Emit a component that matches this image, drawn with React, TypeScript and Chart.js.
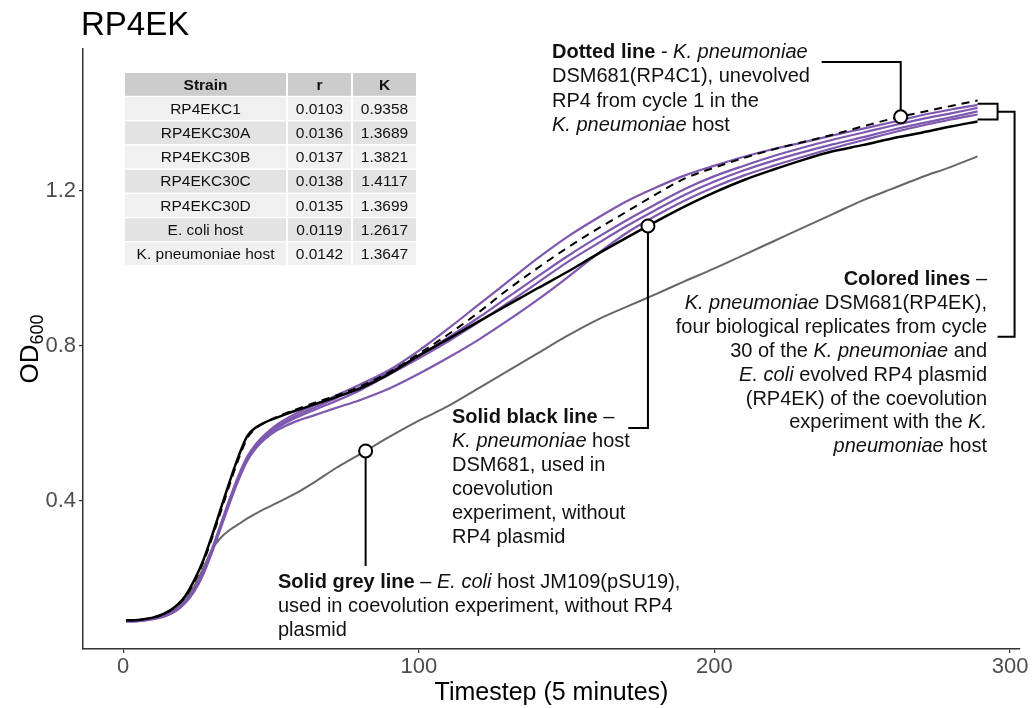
import React, { useEffect, useRef } from "react";
import { Chart, registerables } from "chart.js";

Chart.register(...registerables);

const FONT = '"Liberation Sans", Arial, Helvetica, sans-serif';

// ---------------- data ----------------
const TIMESTEPS = [1, 5, 10, 14, 18, 21, 24, 27, 30, 33, 36, 39, 42, 45, 48, 52, 58, 65, 72, 80, 90, 100, 110, 120, 130, 140, 150, 160, 170, 180, 190, 200, 210, 220, 230, 240, 250, 260, 270, 280, 289];

// dashed: K. pneumoniae DSM681(RP4C1)
const RP4EKC1 = [0.092, 0.093, 0.099, 0.109, 0.128, 0.152, 0.190, 0.240, 0.303, 0.372, 0.442, 0.508, 0.562, 0.588, 0.603, 0.617, 0.635, 0.654, 0.672, 0.695, 0.732, 0.780, 0.830, 0.885, 0.945, 1.000, 1.052, 1.100, 1.145, 1.190, 1.232, 1.260, 1.285, 1.307, 1.326, 1.345, 1.366, 1.386, 1.403, 1.419, 1.433];
// purple replicates
const RP4EKC30C = [0.090, 0.091, 0.096, 0.104, 0.120, 0.141, 0.172, 0.217, 0.275, 0.340, 0.405, 0.465, 0.515, 0.548, 0.572, 0.597, 0.624, 0.648, 0.672, 0.700, 0.738, 0.788, 0.845, 0.905, 0.965, 1.025, 1.080, 1.128, 1.172, 1.208, 1.240, 1.265, 1.288, 1.308, 1.325, 1.343, 1.360, 1.377, 1.395, 1.410, 1.422];
const RP4EKC30B = [0.090, 0.091, 0.096, 0.104, 0.119, 0.140, 0.170, 0.214, 0.272, 0.337, 0.402, 0.462, 0.512, 0.545, 0.568, 0.592, 0.618, 0.642, 0.665, 0.693, 0.733, 0.775, 0.822, 0.872, 0.925, 0.978, 1.030, 1.078, 1.123, 1.165, 1.205, 1.238, 1.265, 1.290, 1.312, 1.332, 1.350, 1.368, 1.385, 1.400, 1.414];
const RP4EKC30D = [0.089, 0.090, 0.095, 0.103, 0.118, 0.139, 0.169, 0.212, 0.270, 0.334, 0.398, 0.458, 0.508, 0.541, 0.564, 0.588, 0.613, 0.636, 0.658, 0.685, 0.726, 0.768, 0.812, 0.860, 0.910, 0.962, 1.015, 1.062, 1.108, 1.150, 1.190, 1.224, 1.253, 1.278, 1.300, 1.320, 1.338, 1.357, 1.374, 1.390, 1.405];
const RP4EKC30A = [0.089, 0.090, 0.095, 0.102, 0.117, 0.137, 0.166, 0.209, 0.266, 0.330, 0.394, 0.454, 0.504, 0.537, 0.560, 0.582, 0.604, 0.622, 0.640, 0.660, 0.690, 0.728, 0.770, 0.815, 0.865, 0.918, 0.975, 1.035, 1.090, 1.135, 1.175, 1.210, 1.240, 1.265, 1.288, 1.310, 1.330, 1.350, 1.368, 1.384, 1.397];
// solid black: K. pneumoniae host
const KPN_HOST = [0.092, 0.093, 0.099, 0.110, 0.130, 0.155, 0.195, 0.245, 0.310, 0.380, 0.450, 0.515, 0.568, 0.590, 0.603, 0.615, 0.632, 0.650, 0.668, 0.690, 0.728, 0.775, 0.818, 0.862, 0.905, 0.948, 0.990, 1.035, 1.078, 1.120, 1.160, 1.196, 1.228, 1.255, 1.280, 1.302, 1.318, 1.335, 1.350, 1.366, 1.379];
// solid grey: E. coli host
const ECOLI_HOST = [0.090, 0.092, 0.098, 0.108, 0.125, 0.148, 0.180, 0.225, 0.275, 0.305, 0.325, 0.340, 0.355, 0.368, 0.380, 0.395, 0.418, 0.450, 0.485, 0.520, 0.565, 0.607, 0.645, 0.690, 0.735, 0.780, 0.825, 0.866, 0.900, 0.933, 0.967, 1.000, 1.035, 1.070, 1.105, 1.140, 1.175, 1.205, 1.235, 1.262, 1.289];

const X_TICKS = [0, 100, 200, 300];
const Y_TICKS = [0.4, 0.8, 1.2];
const X_MIN = -13.6;
const X_MAX = 303.35;
const Y_MIN = 0.018;
const Y_MAX = 1.566;

const TABLE_HEADER = ["Strain", "r", "K"];
const TABLE_STRAINS = ["RP4EKC1", "RP4EKC30A", "RP4EKC30B", "RP4EKC30C", "RP4EKC30D", "E. coli host", "K. pneumoniae host"];
const TABLE_R = [0.0103, 0.0136, 0.0137, 0.0138, 0.0135, 0.0119, 0.0142];
const TABLE_K = [0.9358, 1.3689, 1.3821, 1.4117, 1.3699, 1.2617, 1.3647];

const CALLOUT_DOTTED_T = 263;
const CALLOUT_BLACK_T = 177.5;
const CALLOUT_GREY_T = 82;

const TITLE = "RP4EK";
const X_TITLE = "Timestep (5 minutes)";

const PURPLE = "#7e57ae";

type Seg = { t: string; b?: boolean; i?: boolean };

const DOTTED_TEXT: Seg[][] = [
  [{ t: "Dotted line", b: true }, { t: " - " }, { t: "K. pneumoniae", i: true }],
  [{ t: "DSM681(RP4C1), unevolved" }],
  [{ t: "RP4 from cycle 1 in the" }],
  [{ t: "K. pneumoniae", i: true }, { t: " host" }],
];
const COLORED_TEXT: Seg[][] = [
  [{ t: "Colored lines", b: true }, { t: " –" }],
  [{ t: "K. pneumoniae", i: true }, { t: " DSM681(RP4EK)," }],
  [{ t: "four biological replicates from cycle" }],
  [{ t: "30 of the " }, { t: "K. pneumoniae", i: true }, { t: " and" }],
  [{ t: "E. coli", i: true }, { t: " evolved RP4 plasmid" }],
  [{ t: "(RP4EK) of the coevolution" }],
  [{ t: "experiment with the " }, { t: "K.", i: true }],
  [{ t: "pneumoniae", i: true }, { t: " host" }],
];
const BLACK_TEXT: Seg[][] = [
  [{ t: "Solid black line", b: true }, { t: " –" }],
  [{ t: "K. pneumoniae", i: true }, { t: " host" }],
  [{ t: "DSM681, used in" }],
  [{ t: "coevolution" }],
  [{ t: "experiment, without" }],
  [{ t: "RP4 plasmid" }],
];
const GREY_TEXT: Seg[][] = [
  [{ t: "Solid grey line", b: true }, { t: " – " }, { t: "E. coli", i: true }, { t: " host JM109(pSU19)," }],
  [{ t: "used in coevolution experiment, without RP4" }],
  [{ t: "plasmid" }],
];

function pts(ys: number[]) {
  return TIMESTEPS.map((t, i) => ({ x: t, y: ys[i] }));
}

function interp(ys: number[], t: number) {
  for (let i = 0; i < TIMESTEPS.length - 1; i++) {
    const a = TIMESTEPS[i], b = TIMESTEPS[i + 1];
    if (t >= a && t <= b) return ys[i] + ((t - a) / (b - a)) * (ys[i + 1] - ys[i]);
  }
  return ys[ys.length - 1];
}

const ANN_SIZE = 20;
function segFont(s: Seg) {
  return `${s.i ? "italic " : ""}${s.b ? "bold " : ""}${ANN_SIZE}px ${FONT}`;
}
function lineWidth(ctx: CanvasRenderingContext2D, segs: Seg[]) {
  let w = 0;
  for (const s of segs) {
    ctx.font = segFont(s);
    w += ctx.measureText(s.t).width;
  }
  return w;
}
function drawRich(ctx: CanvasRenderingContext2D, segs: Seg[], x: number, y: number, align: "left" | "right") {
  let cx = align === "right" ? x - lineWidth(ctx, segs) : x;
  ctx.textAlign = "left";
  ctx.textBaseline = "alphabetic";
  for (const s of segs) {
    ctx.font = segFont(s);
    ctx.fillText(s.t, cx, y);
    cx += ctx.measureText(s.t).width;
  }
}

const overlayPlugin = {
  id: "overlay",
  afterDraw(chart: any) {
    const ctx: CanvasRenderingContext2D = chart.ctx;
    const xs = chart.scales.x;
    const ys = chart.scales.y;
    const ca = chart.chartArea;
    ctx.save();

    // Title
    ctx.fillStyle = "#000";
    ctx.font = `33px ${FONT}`;
    ctx.textAlign = "left";
    ctx.textBaseline = "alphabetic";
    ctx.fillText(TITLE, ca.left - 2, 35);

    // X title
    ctx.font = `25px ${FONT}`;
    ctx.textAlign = "center";
    ctx.fillText(X_TITLE, (ca.left + ca.right) / 2, 700);

    // Y title OD600
    ctx.save();
    ctx.translate(38, (ca.top + ca.bottom) / 2);
    ctx.rotate(-Math.PI / 2);
    ctx.textAlign = "left";
    ctx.font = `26px ${FONT}`;
    const w1 = ctx.measureText("OD").width;
    ctx.font = `18px ${FONT}`;
    const w2 = ctx.measureText("600").width;
    const start = -(w1 + w2) / 2;
    ctx.font = `26px ${FONT}`;
    ctx.fillText("OD", start, 0);
    ctx.font = `18px ${FONT}`;
    ctx.fillText("600", start + w1, 5);
    ctx.restore();

    // Table
    const tx = ca.left + 42;
    const ty = ca.top + 24;
    const colW = [161, 63, 63];
    const gap = 2;
    const pitch = 24.2;
    const rh = 22.8;
    const rows = [TABLE_HEADER, ...TABLE_STRAINS.map((s, i) => [s, TABLE_R[i].toFixed(4), TABLE_K[i].toFixed(4)])];
    rows.forEach((row, r) => {
      const y = ty + r * pitch;
      let x = tx;
      const bg = r === 0 ? "#cccccc" : r % 2 === 1 ? "#f0f0f0" : "#e3e3e3";
      row.forEach((cell, c) => {
        ctx.fillStyle = bg;
        ctx.fillRect(x, y, colW[c], rh);
        ctx.fillStyle = "#111";
        ctx.font = `${r === 0 ? "bold " : ""}15.5px ${FONT}`;
        ctx.textAlign = "center";
        ctx.textBaseline = "middle";
        ctx.fillText(cell, x + colW[c] / 2, y + rh / 2 + 1);
        x += colW[c] + gap;
      });
    });

    // annotation texts
    ctx.fillStyle = "#111";
    const dotX = 552, dotY0 = 58, pitchA = 24.4;
    DOTTED_TEXT.forEach((l, i) => drawRich(ctx, l, dotX, dotY0 + i * pitchA, "left"));
    const colX = 987, colY0 = 285, pitchC = 23.9;
    COLORED_TEXT.forEach((l, i) => drawRich(ctx, l, colX, colY0 + i * pitchC, "right"));
    const blkX = 452, blkY0 = 423, pitchB = 24;
    BLACK_TEXT.forEach((l, i) => drawRich(ctx, l, blkX, blkY0 + i * pitchB, "left"));
    const grX = 278, grY0 = 588, pitchG = 24;
    GREY_TEXT.forEach((l, i) => drawRich(ctx, l, grX, grY0 + i * pitchG, "left"));

    // callout lines
    ctx.strokeStyle = "#000";
    ctx.lineWidth = 2;
    const R = 6.5;

    // dotted
    const dcx = xs.getPixelForValue(CALLOUT_DOTTED_T);
    const dcy = ys.getPixelForValue(interp(RP4EKC1, CALLOUT_DOTTED_T));
    const dHy = dotY0 + 4;
    const dStart = dotX + lineWidth(ctx, DOTTED_TEXT[0]) + 14;
    ctx.beginPath();
    ctx.moveTo(dStart, dHy);
    ctx.lineTo(dcx, dHy);
    ctx.lineTo(dcx, dcy - R);
    ctx.stroke();

    // black
    const bcx = xs.getPixelForValue(CALLOUT_BLACK_T);
    const bcy = ys.getPixelForValue(interp(KPN_HOST, CALLOUT_BLACK_T));
    const bHy = blkY0 + 5;
    const bStart = blkX + lineWidth(ctx, BLACK_TEXT[0]) + 14;
    ctx.beginPath();
    ctx.moveTo(bStart, bHy);
    ctx.lineTo(bcx, bHy);
    ctx.lineTo(bcx, bcy + R);
    ctx.stroke();

    // grey
    const gcx = xs.getPixelForValue(CALLOUT_GREY_T);
    const gcy = ys.getPixelForValue(interp(ECOLI_HOST, CALLOUT_GREY_T));
    ctx.beginPath();
    ctx.moveTo(gcx, gcy + R);
    ctx.lineTo(gcx, grY0 - 22);
    ctx.stroke();

    // colored bracket
    const lastT = TIMESTEPS[TIMESTEPS.length - 1];
    const ends = [RP4EKC30A, RP4EKC30B, RP4EKC30C, RP4EKC30D].map((s) => s[s.length - 1]);
    const bx0 = xs.getPixelForValue(lastT);
    const bx1 = bx0 + 20;
    const byTop = ys.getPixelForValue(Math.max(...ends)) - 1;
    const byBot = ys.getPixelForValue(Math.min(...ends)) + 5;
    const byMid = (byTop + byBot) / 2;
    const cHy = colY0 + 2 * pitchC + 4;
    ctx.beginPath();
    ctx.moveTo(bx0, byTop);
    ctx.lineTo(bx1, byTop);
    ctx.lineTo(bx1, byBot);
    ctx.lineTo(bx0, byBot);
    ctx.moveTo(bx1, byMid);
    ctx.lineTo(bx1 + 17, byMid);
    ctx.lineTo(bx1 + 17, cHy);
    ctx.lineTo(bx1, cHy);
    ctx.stroke();

    // circles
    for (const [cx, cy] of [[dcx, dcy], [bcx, bcy], [gcx, gcy]]) {
      ctx.beginPath();
      ctx.arc(cx, cy, R, 0, Math.PI * 2);
      ctx.fillStyle = "#fff";
      ctx.fill();
      ctx.stroke();
    }

    ctx.restore();
  },
};

export default function App() {
  const ref = useRef<HTMLCanvasElement | null>(null);
  useEffect(() => {
    if (!ref.current) return;
    const common = { pointRadius: 0, fill: false, cubicInterpolationMode: "monotone" as const };
    const chart = new Chart(ref.current, {
      type: "line",
      data: {
        datasets: [
          { label: "RP4EKC1", data: pts(RP4EKC1), borderColor: "#000", borderWidth: 2, borderDash: [8, 6], ...common },
          { label: "K. pneumoniae host", data: pts(KPN_HOST), borderColor: "#000", borderWidth: 2.5, ...common },
          { label: "RP4EKC30C", data: pts(RP4EKC30C), borderColor: PURPLE, borderWidth: 2.2, ...common },
          { label: "RP4EKC30B", data: pts(RP4EKC30B), borderColor: PURPLE, borderWidth: 2.2, ...common },
          { label: "RP4EKC30D", data: pts(RP4EKC30D), borderColor: PURPLE, borderWidth: 2.2, ...common },
          { label: "RP4EKC30A", data: pts(RP4EKC30A), borderColor: PURPLE, borderWidth: 2.2, ...common },
          { label: "E. coli host", data: pts(ECOLI_HOST), borderColor: "#666666", borderWidth: 2, ...common },
        ],
      },
      options: {
        responsive: false,
        animation: false,
        devicePixelRatio: 1,
        events: [],
        layout: { padding: { left: 0, right: 14, top: 49, bottom: 0 } },
        plugins: { legend: { display: false }, tooltip: { enabled: false }, title: { display: false } },
        scales: {
          x: {
            type: "linear",
            min: X_MIN,
            max: X_MAX,
            afterBuildTicks: (s: any) => {
              s.ticks = X_TICKS.map((v) => ({ value: v }));
            },
            afterFit: (s: any) => {
              s.height = 59;
            },
            ticks: { font: { size: 22, family: FONT }, color: "#4d4d4d", padding: 1, maxRotation: 0, autoSkip: false },
            grid: { display: true, drawOnChartArea: false, drawTicks: true, tickLength: 4, color: "#333", lineWidth: 1.2 },
            border: { display: true, color: "#333", width: 1.5 },
          },
          y: {
            type: "linear",
            min: Y_MIN,
            max: Y_MAX,
            afterBuildTicks: (s: any) => {
              s.ticks = Y_TICKS.map((v) => ({ value: v }));
            },
            afterFit: (s: any) => {
              s.width = 83;
            },
            ticks: {
              font: { size: 22, family: FONT },
              color: "#4d4d4d",
              padding: 3,
              autoSkip: false,
              callback: (v: any) => Number(v).toFixed(1),
            },
            grid: { display: true, drawOnChartArea: false, drawTicks: true, tickLength: 4, color: "#333", lineWidth: 1.2 },
            border: { display: true, color: "#333", width: 1.5 },
          },
        },
      },
      plugins: [overlayPlugin],
    });
    return () => chart.destroy();
  }, []);
  return (
    <div style={{ position: "absolute", left: 0, top: 0, width: 1034, height: 708, background: "#fff" }}>
      <canvas ref={ref} width={1034} height={708} style={{ display: "block" }} />
    </div>
  );
}
